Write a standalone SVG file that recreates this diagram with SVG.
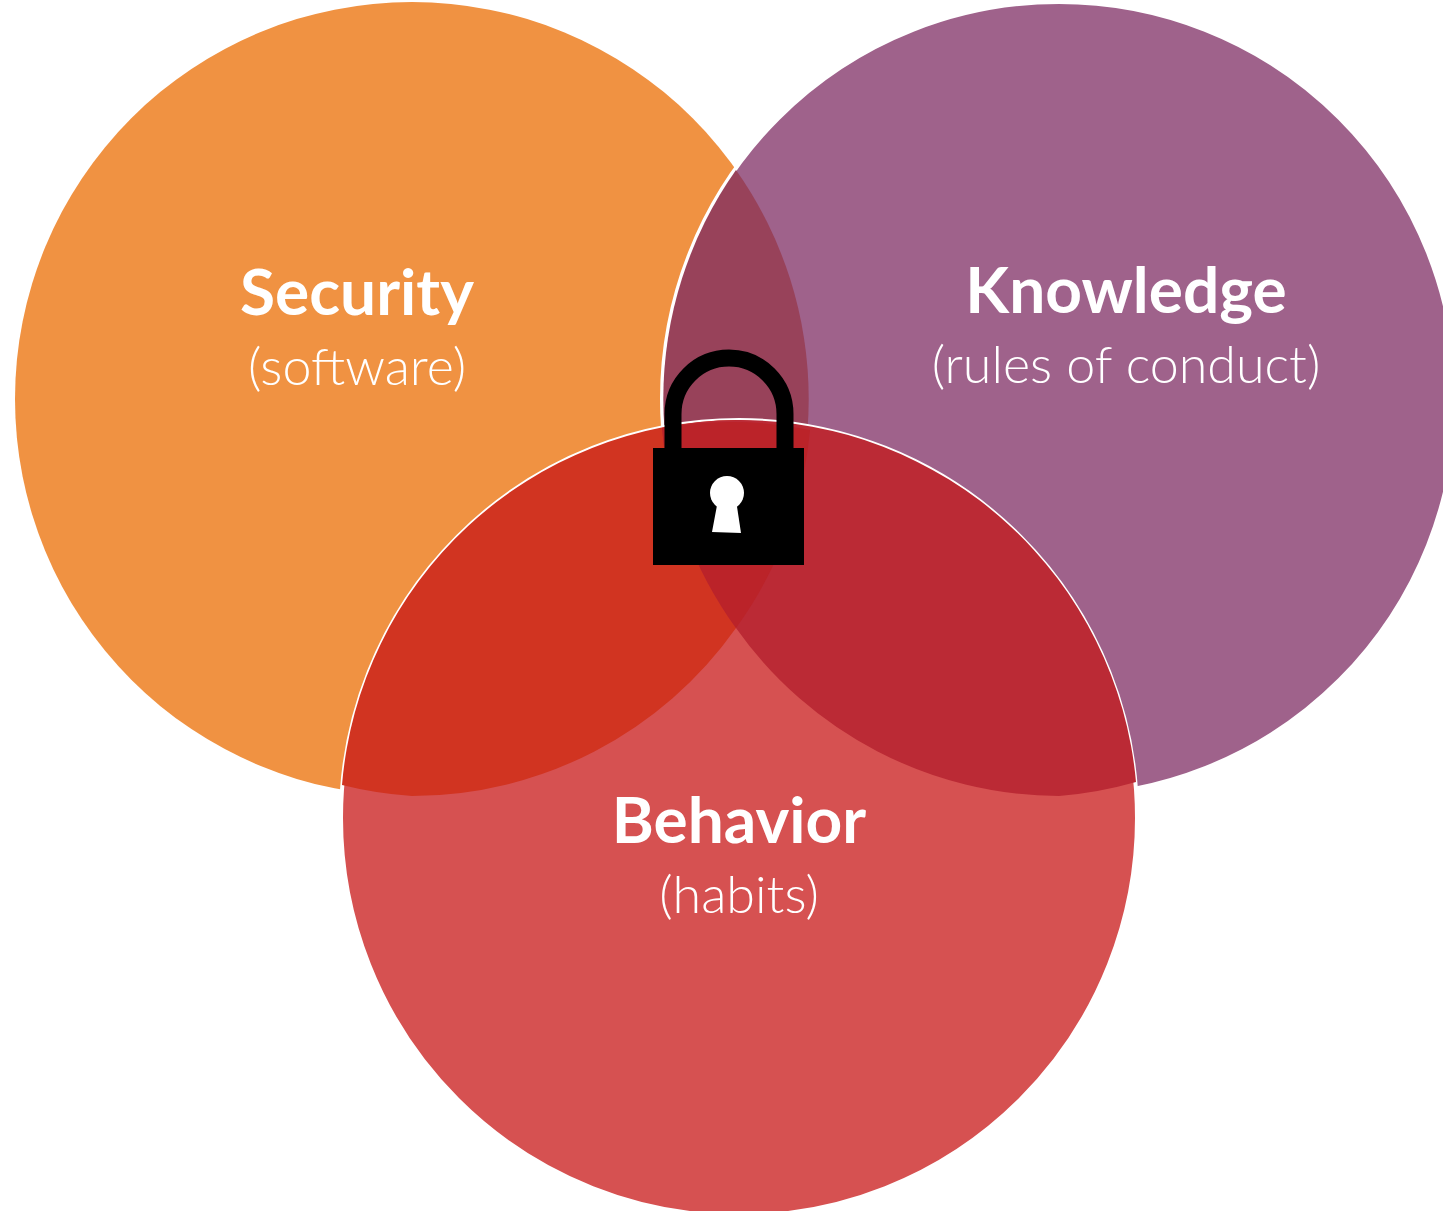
<svg xmlns="http://www.w3.org/2000/svg" width="1443" height="1211" viewBox="0 0 1443 1211">
<style>
.t{font-family:"Lato","Open Sans",sans-serif;fill:#fff;text-anchor:middle}
.b{font-size:64px;font-weight:700}
.s{font-size:52px;font-weight:300}
</style>
<rect width="1443" height="1211" fill="#fff"/>
<g id="security"><circle cx="412" cy="399" r="397" fill="#f09242"/></g>
<g id="knowledge"><circle cx="1059" cy="399" r="397" fill="#9f628b" stroke="#fff" stroke-width="4"/>
<path d="M736 170A397 397 0 0 1 736 628A397 397 0 0 1 736 170Z" fill="#98425a"/></g>
<g id="behavior"><circle cx="739" cy="818" r="398" fill="#d65151" stroke="#fff" stroke-width="4"/>
<path d="M342 785A398 398 0 0 1 736 420A398 398 0 0 1 810 430A397 397 0 0 1 736 628A397 397 0 0 1 412 796A397 397 0 0 1 342 785Z" fill="#d13421"/>
<path d="M1136 782A398 398 0 0 0 739 420A398 398 0 0 0 662 428A397 397 0 0 0 736 628A397 397 0 0 0 1059 796A397 397 0 0 0 1136 782Z" fill="#bb2a35"/>
<path d="M662 428A398 398 0 0 1 810 430A397 397 0 0 1 736 628A397 397 0 0 1 662 428Z" fill="#bb2329"/></g>
<g id="lock">
<path d="M673 448V414A56 56 0 0 1 785 414V448" fill="none" stroke="#000" stroke-width="17"/>
<rect x="653" y="448" width="151" height="117" fill="#000"/>
<circle cx="727" cy="493" r="17" fill="#fff"/>
<path d="M718 500H736L741 533L712 532Z" fill="#fff"/>
</g>
<g id="labels">
<text class="t b" x="357" y="315">Security</text>
<text class="t s" x="357" y="385">(software)</text>
<text class="t b" x="1126" y="313">Knowledge</text>
<text class="t s" x="1126" y="383">(rules of conduct)</text>
<text class="t b" x="739" y="843">Behavior</text>
<text class="t s" x="739" y="913">(habits)</text>
</g>
</svg>
